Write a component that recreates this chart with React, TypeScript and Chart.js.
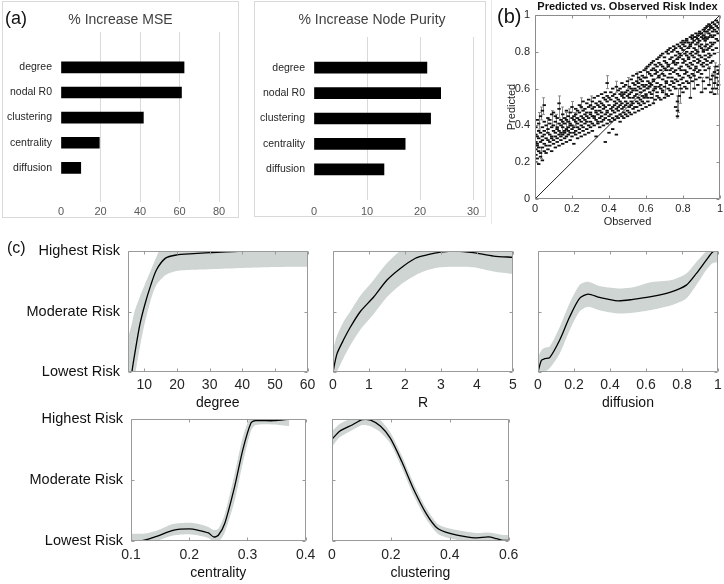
import React, { useEffect, useRef } from "react";
import { Chart, registerables } from "chart.js";

Chart.register(...registerables);

const FONT = "'Liberation Sans', Arial, Helvetica, sans-serif";
Chart.defaults.font.family = FONT;

// ---------- (a) variable importance ----------
const importanceVars = ["degree", "nodal R0", "clustering", "centrality", "diffusion"];
const mseIncrease = [62.3, 61.0, 41.7, 19.4, 10.0];
const purityIncrease = [21.3, 23.9, 22.0, 17.2, 13.2];
const mseTicks = [0, 20, 40, 60, 80];
const purityTicks = [0, 10, 20, 30];

// ---------- (b) predicted vs observed ----------
const riskTicks = [0, 0.2, 0.4, 0.6, 0.8, 1];
const observedBins = [0.005, 0.012, 0.02, 0.03, 0.04, 0.05, 0.06, 0.07, 0.08, 0.09, 0.1, 0.11, 0.12, 0.13, 0.14, 0.15, 0.16, 0.17, 0.18, 0.19, 0.2, 0.21, 0.22, 0.23, 0.24, 0.25, 0.26, 0.27, 0.28, 0.29, 0.3, 0.31, 0.32, 0.33, 0.34, 0.35, 0.36, 0.37, 0.38, 0.39, 0.4, 0.41, 0.42, 0.43, 0.44, 0.45, 0.46, 0.47, 0.48, 0.49, 0.5, 0.51, 0.52, 0.53, 0.54, 0.55, 0.56, 0.57, 0.58, 0.59, 0.6, 0.61, 0.62, 0.63, 0.64, 0.65, 0.66, 0.67, 0.68, 0.69, 0.7, 0.71, 0.72, 0.73, 0.74, 0.75, 0.76, 0.77, 0.78, 0.79, 0.8, 0.81, 0.82, 0.83, 0.84, 0.85, 0.86, 0.87, 0.88, 0.89, 0.9, 0.91, 0.92, 0.93, 0.94, 0.95, 0.96, 0.97, 0.98, 0.99, 1.0];
const predictedBins = [
  [0.2, 0.24, 0.27, 0.31, 0.35, 0.39],
  [0.22, 0.29, 0.3, 0.34, 0.43],
  [0.19, 0.26, 0.28, 0.33, 0.37, 0.41],
  [0.23, 0.25, 0.31, 0.36, 0.45],
  [0.21, 0.28, 0.32, 0.34, 0.39, 0.48],
  [0.26, 0.3, 0.35, 0.37, 0.42, 0.51],
  [0.25, 0.29, 0.33, 0.4],
  [0.27, 0.32, 0.36, 0.38, 0.44],
  [0.29, 0.31, 0.35, 0.41, 0.43],
  [0.26, 0.33, 0.34, 0.39, 0.46],
  [0.3, 0.32, 0.37, 0.4, 0.47],
  [0.28, 0.34, 0.36, 0.42, 0.45],
  [0.31, 0.33, 0.38, 0.39, 0.44],
  [0.29, 0.35, 0.37, 0.41, 0.49, 0.52],
  [0.32, 0.34, 0.36, 0.4, 0.43],
  [0.3, 0.35, 0.39, 0.42, 0.46],
  [0.33, 0.36, 0.37, 0.41, 0.44],
  [0.31, 0.34, 0.38, 0.43, 0.48],
  [0.35, 0.37, 0.39, 0.42, 0.45],
  [0.32, 0.36, 0.4, 0.41, 0.47],
  [0.34, 0.38, 0.4, 0.44, 0.5],
  [0.3, 0.36, 0.39, 0.43, 0.45],
  [0.35, 0.37, 0.42, 0.46, 0.49],
  [0.33, 0.39, 0.41, 0.44, 0.48],
  [0.36, 0.38, 0.43, 0.47, 0.51],
  [0.34, 0.4, 0.42, 0.45, 0.5],
  [0.37, 0.39, 0.44, 0.48, 0.53],
  [0.35, 0.41, 0.43, 0.46, 0.49],
  [0.38, 0.42, 0.45, 0.47, 0.52],
  [0.36, 0.4, 0.44, 0.5, 0.54],
  [0.39, 0.42, 0.46, 0.47, 0.51],
  [0.37, 0.41, 0.45, 0.49, 0.53],
  [0.4, 0.44, 0.45, 0.5, 0.55],
  [0.34, 0.43, 0.47, 0.48, 0.52],
  [0.41, 0.42, 0.46, 0.51, 0.56],
  [0.39, 0.44, 0.48, 0.5, 0.53],
  [0.42, 0.45, 0.47, 0.52, 0.57],
  [0.4, 0.43, 0.49, 0.51, 0.55],
  [0.31, 0.44, 0.46, 0.5, 0.54, 0.58],
  [0.41, 0.47, 0.48, 0.53, 0.56, 0.63],
  [0.36, 0.43, 0.45, 0.51, 0.55],
  [0.42, 0.46, 0.49, 0.54, 0.58],
  [0.38, 0.44, 0.48, 0.5, 0.56, 0.6],
  [0.43, 0.47, 0.51, 0.53, 0.57],
  [0.35, 0.45, 0.49, 0.52, 0.55, 0.61],
  [0.44, 0.48, 0.5, 0.54, 0.59],
  [0.42, 0.46, 0.51, 0.53, 0.57, 0.6],
  [0.45, 0.49, 0.52, 0.56, 0.58, 0.63],
  [0.44, 0.47, 0.5, 0.55, 0.57, 0.61],
  [0.46, 0.51, 0.53, 0.58, 0.62],
  [0.45, 0.48, 0.52, 0.56, 0.59, 0.64],
  [0.47, 0.5, 0.55, 0.57, 0.61],
  [0.46, 0.51, 0.53, 0.58, 0.6, 0.65],
  [0.49, 0.52, 0.55, 0.59, 0.63, 0.67],
  [0.47, 0.5, 0.56, 0.6, 0.62],
  [0.5, 0.53, 0.57, 0.59, 0.64, 0.68],
  [0.48, 0.52, 0.55, 0.61, 0.63, 0.66],
  [0.51, 0.54, 0.58, 0.6, 0.65, 0.69],
  [0.49, 0.53, 0.56, 0.62, 0.64, 0.67],
  [0.52, 0.55, 0.59, 0.61, 0.66, 0.7],
  [0.5, 0.56, 0.57, 0.62, 0.66, 0.71],
  [0.53, 0.55, 0.6, 0.64, 0.69, 0.72],
  [0.51, 0.58, 0.61, 0.63, 0.68, 0.73],
  [0.55, 0.57, 0.62, 0.67, 0.7, 0.74],
  [0.52, 0.59, 0.64, 0.65, 0.71, 0.75],
  [0.54, 0.6, 0.61, 0.68, 0.7, 0.73],
  [0.56, 0.58, 0.63, 0.69, 0.72, 0.76],
  [0.55, 0.61, 0.66, 0.67, 0.74, 0.77],
  [0.54, 0.6, 0.62, 0.7, 0.73, 0.78],
  [0.58, 0.59, 0.65, 0.68, 0.72, 0.79],
  [0.55, 0.61, 0.67, 0.71, 0.75, 0.77],
  [0.57, 0.63, 0.64, 0.7, 0.74, 0.8],
  [0.56, 0.6, 0.66, 0.72, 0.73, 0.79, 0.81],
  [0.59, 0.62, 0.68, 0.7, 0.76, 0.82],
  [0.57, 0.64, 0.66, 0.71, 0.77, 0.8],
  [0.61, 0.63, 0.69, 0.74, 0.75, 0.81, 0.83],
  [0.5, 0.6, 0.65, 0.7, 0.73, 0.78, 0.82],
  [0.45, 0.48, 0.53, 0.64, 0.68, 0.74, 0.76, 0.8, 0.84],
  [0.56, 0.62, 0.67, 0.71, 0.77, 0.79, 0.83],
  [0.6, 0.65, 0.7, 0.72, 0.78, 0.82, 0.85],
  [0.58, 0.63, 0.66, 0.74, 0.76, 0.81, 0.84, 0.86],
  [0.61, 0.68, 0.7, 0.75, 0.79, 0.83, 0.85],
  [0.6, 0.64, 0.69, 0.73, 0.78, 0.8, 0.86, 0.87],
  [0.63, 0.67, 0.72, 0.76, 0.77, 0.82, 0.85],
  [0.55, 0.66, 0.71, 0.74, 0.79, 0.83, 0.84, 0.88],
  [0.64, 0.68, 0.73, 0.78, 0.8, 0.85, 0.87, 0.89],
  [0.6, 0.67, 0.7, 0.75, 0.77, 0.82, 0.86, 0.88],
  [0.65, 0.71, 0.72, 0.79, 0.81, 0.84, 0.88, 0.9],
  [0.62, 0.69, 0.74, 0.76, 0.8, 0.85, 0.87, 0.89],
  [0.66, 0.7, 0.75, 0.78, 0.83, 0.86, 0.9, 0.91],
  [0.58, 0.68, 0.73, 0.77, 0.82, 0.84, 0.88, 0.9],
  [0.64, 0.72, 0.74, 0.8, 0.81, 0.87, 0.89, 0.92],
  [0.6, 0.7, 0.76, 0.78, 0.83, 0.86, 0.88, 0.91, 0.93],
  [0.66, 0.73, 0.75, 0.81, 0.84, 0.87, 0.91, 0.94],
  [0.62, 0.71, 0.77, 0.79, 0.82, 0.88, 0.9, 0.92, 0.95],
  [0.58, 0.65, 0.74, 0.78, 0.83, 0.85, 0.89, 0.93, 0.94],
  [0.6, 0.67, 0.75, 0.81, 0.84, 0.88, 0.91, 0.93, 0.96],
  [0.57, 0.63, 0.69, 0.79, 0.85, 0.89, 0.92, 0.95],
  [0.6, 0.66, 0.72, 0.82, 0.87, 0.91, 0.94, 0.97],
  [0.62, 0.68, 0.7, 0.86, 0.9, 0.93, 0.96],
  [0.64, 0.69, 0.72, 0.92, 0.95],
];
const errObserved = [0.02, 0.035, 0.045, 0.03, 0.065, 0.09, 0.115, 0.13, 0.145, 0.165, 0.185, 0.2, 0.215, 0.25, 0.3, 0.39, 0.44, 0.5, 0.55, 0.6, 0.64, 0.7, 0.765, 0.775, 0.785, 0.84, 0.86, 0.88, 0.9, 0.92, 0.94, 0.955, 0.965, 0.975, 0.985, 0.995];
const errLow = [0.38, 0.43, 0.46, 0.22, 0.36, 0.4, 0.38, 0.44, 0.36, 0.38, 0.42, 0.47, 0.4, 0.49, 0.5, 0.6, 0.58, 0.6, 0.63, 0.66, 0.52, 0.56, 0.44, 0.47, 0.52, 0.55, 0.6, 0.78, 0.58, 0.82, 0.62, 0.58, 0.6, 0.63, 0.57, 0.62];
const errHigh = [0.47, 0.5, 0.55, 0.28, 0.44, 0.48, 0.46, 0.56, 0.5, 0.47, 0.49, 0.53, 0.47, 0.55, 0.56, 0.67, 0.64, 0.66, 0.69, 0.72, 0.6, 0.64, 0.56, 0.6, 0.62, 0.66, 0.7, 0.86, 0.66, 0.9, 0.72, 0.68, 0.72, 0.74, 0.66, 0.73];

// ---------- (c) partial dependence ----------
const riskLevelValues = [0, 0.5, 1];
const riskLevelLabels = ["Lowest Risk", "Moderate Risk", "Highest Risk"];

const degreeX = [5, 6.2, 7, 8.6, 10.1, 12, 13.7, 16.4, 19.8, 25, 30, 40.2, 50, 60];
const degreeMean = [-0.3, 0, 0.14, 0.387, 0.552, 0.72, 0.843, 0.939, 0.967, 0.978, 0.986, 1.0, 1.0, 1.0];
const degreeUpper = [0.28, 0.4, 0.5, 0.62, 0.72, 0.84, 0.95, 1.1, 1.1, 1.1, 1.1, 1.1, 1.1, 1.1];
const degreeLower = [-0.3, -0.15, -0.05, 0.2, 0.4, 0.6, 0.72, 0.8, 0.835, 0.845, 0.85, 0.86, 0.868, 0.87];
const degreeTicks = [10, 20, 30, 40, 50, 60];

const rX = [0, 0.11, 0.3, 0.48, 0.76, 1.13, 1.5, 1.87, 2.29, 2.61, 2.98, 3.44, 3.9, 4.46, 5];
const rMean = [0, 0.15, 0.27, 0.37, 0.5, 0.62, 0.76, 0.856, 0.94, 0.967, 0.99, 1.0, 0.986, 0.958, 0.948];
const rUpper = [0.18, 0.3, 0.42, 0.5, 0.63, 0.76, 0.9, 1.0, 1.06, 1.08, 1.08, 1.08, 1.08, 1.08, 1.08];
const rLower = [-0.1, 0.0, 0.12, 0.22, 0.35, 0.48, 0.62, 0.72, 0.8, 0.84, 0.865, 0.87, 0.865, 0.83, 0.81];
const rTicks = [0, 1, 2, 3, 4, 5];

const diffusionX = [0, 0.019, 0.037, 0.065, 0.12, 0.176, 0.231, 0.278, 0.343, 0.444, 0.528, 0.62, 0.741, 0.824, 0.88, 0.935, 0.972, 1];
const diffusionMean = [0, 0.097, 0.11, 0.119, 0.262, 0.456, 0.608, 0.644, 0.616, 0.588, 0.6, 0.62, 0.663, 0.718, 0.815, 0.925, 0.994, 1.0];
const diffusionUpper = [0.12, 0.18, 0.2, 0.21, 0.37, 0.57, 0.72, 0.746, 0.71, 0.69, 0.7, 0.74, 0.76, 0.815, 0.91, 1.0, 1.06, 1.08];
const diffusionLower = [-0.12, -0.02, 0.0, 0.03, 0.15, 0.345, 0.5, 0.54, 0.51, 0.483, 0.49, 0.51, 0.552, 0.608, 0.718, 0.843, 0.9, 0.91];
const diffusionTicks = [0, 0.2, 0.4, 0.6, 0.8, 1];

const centralityX = [0.1, 0.121, 0.144, 0.172, 0.2, 0.216, 0.233, 0.242, 0.25, 0.261, 0.278, 0.292, 0.306, 0.314, 0.345, 0.372];
const centralityMean = [0, 0.005, 0.038, 0.088, 0.1, 0.088, 0.066, 0.033, 0.047, 0.143, 0.445, 0.747, 0.967, 0.986, 0.986, 1.0];
const centralityUpper = [0.06, 0.06, 0.085, 0.14, 0.15, 0.14, 0.115, 0.09, 0.1, 0.22, 0.55, 0.85, 1.03, 1.03, 1.03, 1.03];
const centralityLower = [-0.02, -0.03, 0.0, 0.045, 0.055, 0.045, 0.025, -0.01, -0.01, 0.07, 0.33, 0.64, 0.9, 0.95, 0.955, 0.94];
const centralityTicks = [0.1, 0.2, 0.3, 0.4];

const clusteringX = [0, 0.026, 0.07, 0.103, 0.131, 0.165, 0.198, 0.237, 0.276, 0.32, 0.359, 0.403, 0.448, 0.492, 0.531, 0.559, 0.581, 0.6];
const clusteringMean = [0.835, 0.9, 0.953, 0.995, 0.99, 0.94, 0.843, 0.651, 0.431, 0.225, 0.102, 0.06, 0.038, 0.025, 0.033, 0.019, 0.005, 0.005];
const clusteringUpper = [0.9, 0.96, 1.01, 1.04, 1.04, 0.99, 0.89, 0.7, 0.48, 0.27, 0.14, 0.1, 0.08, 0.065, 0.07, 0.06, 0.05, 0.05];
const clusteringLower = [0.77, 0.85, 0.91, 0.95, 0.94, 0.89, 0.8, 0.6, 0.38, 0.18, 0.06, 0.02, 0.0, -0.01, -0.005, -0.02, -0.03, -0.03];
const clusteringTicks = [0, 0.2, 0.4, 0.6];

// ---------- styling ----------
const BAND = "rgb(206,213,211)";
const TXT = "#262626";

type M = { l: number; t: number; r: number; b: number };

function framePlugin(color: string, len: number) {
  return {
    id: "frame",
    afterDatasetsDraw(chart: any) {
      const { ctx, chartArea: a, scales } = chart;
      const L = Math.round(a.left) + 0.5;
      const R = Math.round(a.right) - 0.5;
      const T = Math.round(a.top) + 0.5;
      const B = Math.round(a.bottom) - 0.5;
      ctx.save();
      ctx.strokeStyle = color;
      ctx.lineWidth = 1;
      ctx.beginPath();
      ctx.rect(L, T, R - L, B - T);
      for (const t of scales.x.ticks) {
        const px = Math.round(scales.x.getPixelForValue(t.value)) + 0.5;
        ctx.moveTo(px, T);
        ctx.lineTo(px, T + len);
        ctx.moveTo(px, B);
        ctx.lineTo(px, B - len);
      }
      for (const t of scales.y.ticks) {
        const py = Math.round(scales.y.getPixelForValue(t.value)) + 0.5;
        ctx.moveTo(L, py);
        ctx.lineTo(L + len, py);
        ctx.moveTo(R, py);
        ctx.lineTo(R - len, py);
      }
      ctx.stroke();
      ctx.restore();
    },
  };
}

const errorBarPlugin = {
  id: "errbars",
  beforeDatasetsDraw(chart: any) {
    const { ctx, scales } = chart;
    const x = scales.x;
    const y = scales.y;
    ctx.save();
    ctx.strokeStyle = "#8a8a8a";
    ctx.lineWidth = 1;
    ctx.beginPath();
    errObserved.forEach((ov, i) => {
      const px = Math.round(x.getPixelForValue(ov)) + 0.5;
      const p1 = y.getPixelForValue(errLow[i]);
      const p2 = y.getPixelForValue(errHigh[i]);
      ctx.moveTo(px, p1);
      ctx.lineTo(px, p2);
      ctx.moveTo(px - 1.5, p1);
      ctx.lineTo(px + 1.5, p1);
      ctx.moveTo(px - 1.5, p2);
      ctx.lineTo(px + 1.5, p2);
    });
    ctx.stroke();
    ctx.restore();
  },
};

function barConfig(values: number[], ticks: number[], yMin: number, yMax: number, m: M, tickPad: number) {
  return {
    type: "bar",
    data: {
      datasets: [
        {
          data: values.map((v, i) => ({ x: v, y: i })),
          backgroundColor: "#000",
          barThickness: 11,
        },
      ],
    },
    options: {
      indexAxis: "y",
      animation: false,
      responsive: false,
      devicePixelRatio: 1,
      events: [],
      layout: { padding: { left: 0, top: m.t, right: m.r, bottom: 0 } },
      plugins: { legend: { display: false }, tooltip: { enabled: false } },
      scales: {
        x: {
          type: "linear",
          min: ticks[0],
          max: ticks[ticks.length - 1],
          afterBuildTicks: (s: any) => {
            s.ticks = ticks.map((v) => ({ value: v }));
          },
          afterFit: (s: any) => {
            s.height = m.b;
          },
          grid: {
            drawTicks: false,
            color: (c: any) => (c.tick && c.tick.value === 0 ? "rgba(0,0,0,0)" : "#d9d9d9"),
          },
          border: { display: false },
          ticks: { padding: tickPad, color: "#595959", font: { size: 11 }, autoSkip: false, maxRotation: 0 },
        },
        y: {
          type: "linear",
          reverse: true,
          min: yMin,
          max: yMax,
          afterBuildTicks: (s: any) => {
            s.ticks = importanceVars.map((_, i) => ({ value: i }));
          },
          afterFit: (s: any) => {
            s.width = m.l;
          },
          grid: { display: false, drawTicks: false },
          border: { display: false },
          ticks: {
            padding: 9,
            color: "#262626",
            font: { size: 10.5 },
            autoSkip: false,
            callback: (v: any) => importanceVars[Number(v)],
          },
        },
      },
    },
  };
}

function scatterConfig(m: M) {
  const pts = observedBins.flatMap((ox, i) => predictedBins[i].map((py) => ({ x: ox, y: py })));
  return {
    type: "scatter",
    data: {
      datasets: [
        {
          data: pts,
          pointStyle: "line",
          pointRadius: 1.7,
          pointHoverRadius: 0,
          pointBorderWidth: 1.8,
          pointBorderColor: "#111",
          pointBackgroundColor: "#111",
          borderColor: "#111",
        },
        {
          data: [
            { x: 0, y: 0 },
            { x: 1, y: 1 },
          ],
          showLine: true,
          pointRadius: 0,
          borderColor: "#222",
          borderWidth: 1,
        },
      ],
    },
    plugins: [errorBarPlugin, framePlugin("#8c8c8c", 3)],
    options: {
      animation: false,
      responsive: false,
      devicePixelRatio: 1,
      events: [],
      layout: { padding: { left: 0, top: m.t, right: m.r, bottom: 0 } },
      plugins: { legend: { display: false }, tooltip: { enabled: false } },
      scales: {
        x: {
          type: "linear",
          min: 0,
          max: 1,
          afterBuildTicks: (s: any) => {
            s.ticks = riskTicks.map((v) => ({ value: v }));
          },
          afterFit: (s: any) => {
            s.height = m.b;
          },
          grid: { display: false, drawTicks: false },
          border: { display: false },
          ticks: { padding: 3.4, color: TXT, font: { size: 11 }, autoSkip: false, maxRotation: 0, callback: (v: any) => String(v) },
          title: { display: true, text: "Observed", color: TXT, font: { size: 11 }, padding: { top: 0, bottom: 0.1 } },
        },
        y: {
          type: "linear",
          min: 0,
          max: 1,
          afterBuildTicks: (s: any) => {
            s.ticks = riskTicks.map((v) => ({ value: v }));
          },
          afterFit: (s: any) => {
            s.width = m.l;
          },
          grid: { display: false, drawTicks: false },
          border: { display: false },
          ticks: { padding: 5, color: TXT, font: { size: 11 }, autoSkip: false, callback: (v: any) => String(v) },
          title: { display: true, text: "Predicted", color: TXT, font: { size: 11 }, padding: { top: 2.1, bottom: 0 } },
        },
      },
    },
  };
}

type CurveSpec = {
  x: number[];
  mean: number[];
  upper: number[];
  lower: number[];
  ticks: number[];
  min: number;
  max: number;
  title: string;
  showY: boolean;
  m: M;
  tickPad: number;
  titlePad: number;
};

function curveConfig(p: CurveSpec) {
  const pts = (ys: number[]) => p.x.map((v, i) => ({ x: v, y: ys[i] }));
  return {
    type: "line",
    data: {
      datasets: [
        { data: pts(p.mean), borderColor: "#000", borderWidth: 1.3, pointRadius: 0, fill: false, tension: 0.25 },
        {
          data: pts(p.upper),
          borderColor: "rgba(0,0,0,0)",
          borderWidth: 0.01,
          pointRadius: 0,
          fill: "+1",
          backgroundColor: BAND,
          tension: 0.25,
        },
        { data: pts(p.lower), borderColor: "rgba(0,0,0,0)", borderWidth: 0.01, pointRadius: 0, fill: false, tension: 0.25 },
      ],
    },
    plugins: [framePlugin("#9a9a9a", 3)],
    options: {
      animation: false,
      responsive: false,
      devicePixelRatio: 1,
      events: [],
      layout: { padding: { left: 0, top: p.m.t, right: p.m.r, bottom: 0 } },
      plugins: { legend: { display: false }, tooltip: { enabled: false } },
      scales: {
        x: {
          type: "linear",
          min: p.min,
          max: p.max,
          afterBuildTicks: (s: any) => {
            s.ticks = p.ticks.map((v) => ({ value: v }));
          },
          afterFit: (s: any) => {
            s.height = p.m.b;
          },
          grid: { display: false, drawTicks: false },
          border: { display: false },
          ticks: {
            padding: p.tickPad,
            color: TXT,
            font: { size: 14 },
            autoSkip: false,
            maxRotation: 0,
            callback: (v: any) => String(v),
          },
          title: { display: true, text: p.title, color: "#111", font: { size: 14 }, padding: { top: 0, bottom: p.titlePad } },
        },
        y: {
          type: "linear",
          min: 0,
          max: 1,
          afterBuildTicks: (s: any) => {
            s.ticks = riskLevelValues.map((v) => ({ value: v }));
          },
          afterFit: (s: any) => {
            s.width = p.m.l;
          },
          grid: { display: false, drawTicks: false },
          border: { display: false },
          ticks: {
            display: p.showY,
            padding: 8,
            color: "#111",
            font: { size: 14.5 },
            autoSkip: false,
            callback: (v: any) => riskLevelLabels[riskLevelValues.indexOf(Number(v))],
          },
        },
      },
    },
  };
}

function ChartCanvas(props: { area: M; m: M; make: () => any }) {
  const ref = useRef<HTMLCanvasElement>(null);
  const { area, m } = props;
  const width = area.r - area.l + m.l + m.r;
  const height = area.b - area.t + m.t + m.b;
  useEffect(() => {
    const chart = new Chart(ref.current as HTMLCanvasElement, props.make());
    return () => chart.destroy();
  }, []);
  return (
    <canvas
      ref={ref}
      width={width}
      height={height}
      style={{ position: "absolute", left: area.l - m.l, top: area.t - m.t, width, height }}
    />
  );
}

function Txt(props: { left: number; top: number; width?: number; size: number; lh: number; bold?: boolean; color?: string; children: any }) {
  return (
    <div
      style={{
        position: "absolute",
        left: props.left,
        top: props.top,
        width: props.width,
        textAlign: props.width ? "center" : "left",
        fontSize: props.size,
        lineHeight: props.lh + "px",
        fontWeight: props.bold ? "bold" : "normal",
        color: props.color || "#111",
        whiteSpace: "nowrap",
        fontFamily: FONT,
      }}
    >
      {props.children}
    </div>
  );
}

// layout (page pixels)
const aMseArea = { l: 61, t: 32, r: 219, b: 202 };
const aMseM = { l: 58, t: 30, r: 19, b: 15 };
const aPurArea = { l: 314, t: 37, r: 473, b: 200 };
const aPurM = { l: 58, t: 35, r: 16, b: 16 };
const bArea = { l: 535, t: 15, r: 720, b: 199 };
const bM = { l: 32, t: 14, r: 8, b: 30 };
const c1Area = { l: 128, t: 251, r: 308, b: 372 };
const c2Area = { l: 333, t: 251, r: 513, b: 372 };
const c3Area = { l: 538, t: 251, r: 718, b: 372 };
const c4Area = { l: 131, t: 419, r: 309, b: 541 };
const c5Area = { l: 332, t: 419, r: 512, b: 541 };

export default function App() {
  const c1M = { l: 128, t: 18, r: 12, b: 42 };
  const c2M = { l: 12, t: 18, r: 12, b: 42 };
  const c3M = { l: 12, t: 18, r: 12, b: 42 };
  const c4M = { l: 131, t: 18, r: 12, b: 42 };
  const c5M = { l: 12, t: 18, r: 12, b: 42 };
  return (
    <div
      style={{
        position: "absolute",
        left: 0,
        top: 0,
        width: 724,
        height: 584,
        overflow: "hidden",
        background: "#fff",
        fontFamily: FONT,
      }}
    >
      <div style={{ position: "absolute", left: 2, top: 1, width: 237, height: 217, border: "1px solid #d9d9d9", boxSizing: "border-box" }} />
      <div style={{ position: "absolute", left: 254, top: 1, width: 232, height: 216, border: "1px solid #d9d9d9", boxSizing: "border-box" }} />
      <div style={{ position: "absolute", left: 491, top: 0, width: 1, height: 224, background: "#e6e6e6" }} />

      <ChartCanvas area={aMseArea} m={aMseM} make={() => barConfig(mseIncrease, mseTicks, -0.73, 4.67, aMseM, 3.4)} />
      <ChartCanvas area={aPurArea} m={aPurM} make={() => barConfig(purityIncrease, purityTicks, -0.567, 4.567, aPurM, 5.7)} />
      <ChartCanvas area={bArea} m={bM} make={() => scatterConfig(bM)} />

      <ChartCanvas
        area={c1Area}
        m={c1M}
        make={() =>
          curveConfig({ x: degreeX, mean: degreeMean, upper: degreeUpper, lower: degreeLower, ticks: degreeTicks, min: 5, max: 60, title: "degree", showY: true, m: c1M, tickPad: 4.6, titlePad: 2.6 })
        }
      />
      <ChartCanvas
        area={c2Area}
        m={c2M}
        make={() => curveConfig({ x: rX, mean: rMean, upper: rUpper, lower: rLower, ticks: rTicks, min: 0, max: 5, title: "R", showY: false, m: c2M, tickPad: 4.6, titlePad: 2.6 })}
      />
      <ChartCanvas
        area={c3Area}
        m={c3M}
        make={() =>
          curveConfig({ x: diffusionX, mean: diffusionMean, upper: diffusionUpper, lower: diffusionLower, ticks: diffusionTicks, min: 0, max: 1, title: "diffusion", showY: false, m: c3M, tickPad: 4.6, titlePad: 2.6 })
        }
      />
      <ChartCanvas
        area={c4Area}
        m={c4M}
        make={() =>
          curveConfig({ x: centralityX, mean: centralityMean, upper: centralityUpper, lower: centralityLower, ticks: centralityTicks, min: 0.1, max: 0.4, title: "centrality", showY: true, m: c4M, tickPad: 5.6, titlePad: 1.9 })
        }
      />
      <ChartCanvas
        area={c5Area}
        m={c5M}
        make={() =>
          curveConfig({ x: clusteringX, mean: clusteringMean, upper: clusteringUpper, lower: clusteringLower, ticks: clusteringTicks, min: 0, max: 0.6, title: "clustering", showY: false, m: c5M, tickPad: 5.6, titlePad: 1.9 })
        }
      />

      <Txt left={3} top={10} width={235} size={14} lh={18} color="#404040">% Increase MSE</Txt>
      <Txt left={257} top={10} width={230} size={14} lh={18} color="#404040">% Increase Node Purity</Txt>
      <Txt left={520} top={0} width={215} size={11} lh={12} bold>Predicted vs. Observed Risk Index</Txt>
      <Txt left={5} top={7} size={18} lh={22}>(a)</Txt>
      <Txt left={497} top={4} size={20} lh={24}>(b)</Txt>
      <Txt left={7} top={239} size={16} lh={18}>(c)</Txt>
    </div>
  );
}
